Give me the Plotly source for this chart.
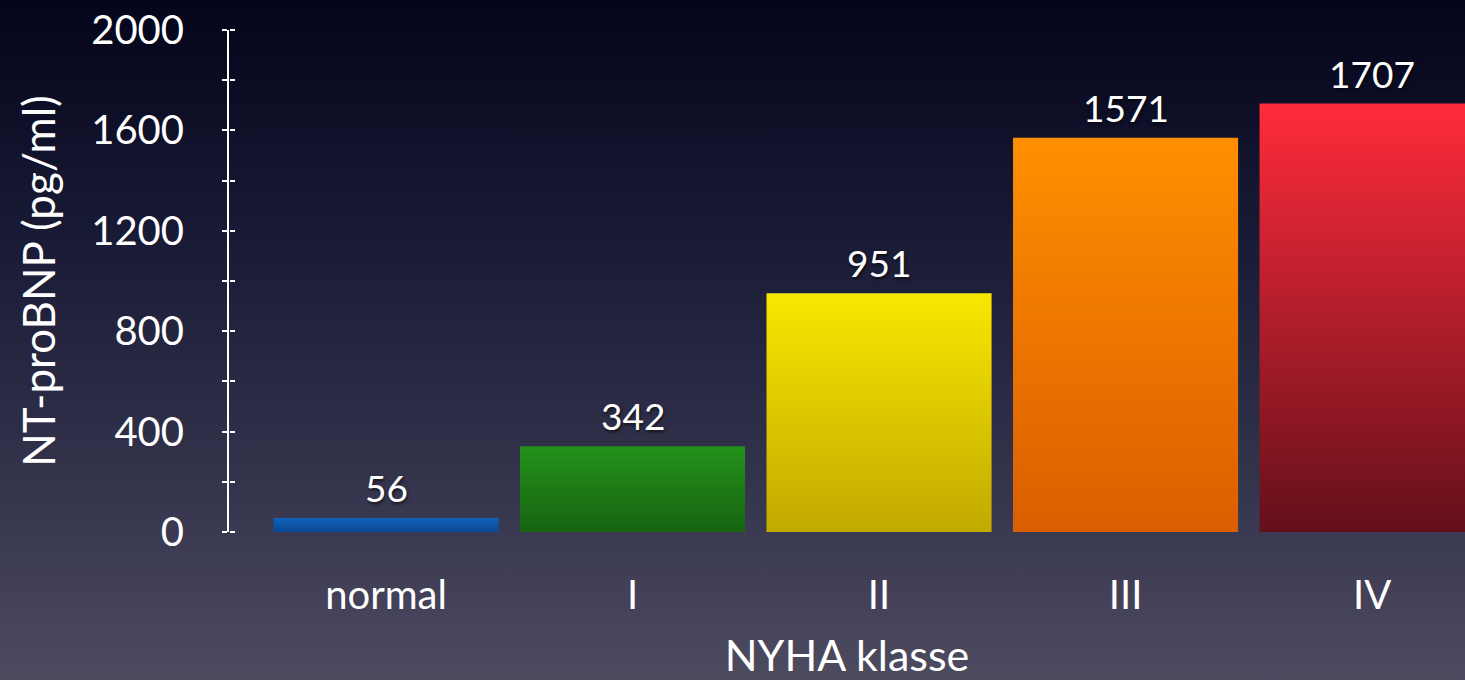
import base64
import plotly.graph_objects as go

# ---- data ----
categories = ["normal", "I", "II", "III", "IV"]
values = [56, 342, 951, 1571, 1707]
top_colors = ["#1062bb", "#24911a", "#f8e700", "#ff8f00", "#ff2b3b"]
bottom_colors = ["#0a4896", "#176412", "#c1a900", "#da5e00", "#63101a"]
y_tick_values = [0, 200, 400, 600, 800, 1000, 1200, 1400, 1600, 1800, 2000]
y_tick_labels = ["0", "", "400", "", "800", "", "1200", "", "1600", "", "2000"]
x_title = "NYHA klasse"
y_title = "NT-proBNP (pg/ml)"

FONT = "Lato, Open Sans, sans-serif"
half_width = 0.4565

# background gradient as an svg image
svg = (
    '<svg xmlns="http://www.w3.org/2000/svg" width="100" height="100" preserveAspectRatio="none">'
    '<defs><linearGradient id="g" x1="0" y1="0" x2="0" y2="1">'
    '<stop offset="0" stop-color="#04051a"/>'
    '<stop offset="0.35" stop-color="#191a35"/>'
    '<stop offset="0.7" stop-color="#33334c"/>'
    '<stop offset="1" stop-color="#4d4b60"/>'
    '</linearGradient></defs>'
    '<rect width="100" height="100" fill="url(#g)"/></svg>'
)
bg_src = "data:image/svg+xml;base64," + base64.b64encode(svg.encode()).decode()

fig = go.Figure()

for i, (cat, v) in enumerate(zip(categories, values)):
    fig.add_trace(go.Scatter(
        x=[i - half_width, i + half_width, i + half_width, i - half_width, i - half_width],
        y=[0, 0, v, v, 0],
        mode="lines",
        line=dict(width=0, color=top_colors[i]),
        fill="toself",
        fillgradient=dict(type="vertical",
                          colorscale=[[0, bottom_colors[i]], [1, top_colors[i]]]),
        name=cat,
        hoverinfo="skip",
        showlegend=False,
    ))
    fig.add_annotation(
        x=i, y=v, text=str(v), showarrow=False, yanchor="bottom", yshift=6,
        font=dict(family=FONT, size=37, color="white",
                  shadow="1px 2px 3px rgba(0,0,0,0.6)"),
    )

# invisible trace on the overlay axis (for the right-pointing ticks)
fig.add_trace(go.Scatter(x=[0], y=[0], yaxis="y2", mode="markers",
                         marker=dict(opacity=0), hoverinfo="skip", showlegend=False))

W, H = 1465, 680
L, R, T, B = 229, 0, 30, 148
pw, ph = W - L - R, H - T - B

fig.add_layout_image(
    source=bg_src, xref="paper", yref="paper",
    x=-L / pw, y=1 + T / ph, sizex=W / pw, sizey=H / ph,
    xanchor="left", yanchor="top", sizing="stretch", layer="below",
)

fig.update_layout(
    width=W, height=H,
    margin=dict(l=L, r=R, t=T, b=B, pad=0),
    paper_bgcolor="#2a2a42",
    plot_bgcolor="rgba(0,0,0,0)",
    font=dict(family=FONT, color="white"),
    xaxis=dict(
        range=[-0.637, 4.377], tickvals=list(range(len(categories))), ticktext=categories,
        showgrid=False, zeroline=False, showline=False, ticks="",
        tickfont=dict(family=FONT, size=40, color="white"),
        ticklabelstandoff=36,
        title=dict(text=x_title, font=dict(family=FONT, size=43, color="white"), standoff=24),
        fixedrange=True,
    ),
    yaxis=dict(
        range=[0, 2000], tickvals=y_tick_values, ticktext=y_tick_labels,
        showgrid=False, zeroline=False, showline=True, linecolor="white", linewidth=2,
        ticks="outside", ticklen=5, tickwidth=2, tickcolor="white",
        tickfont=dict(family=FONT, size=40, color="white"),
        ticklabelstandoff=30,
        title=dict(text=y_title, font=dict(family=FONT, size=44, color="white"), standoff=22),
        fixedrange=True,
    ),
    yaxis2=dict(
        overlaying="y", anchor="free", position=0, side="right",
        range=[0, 2000], tickvals=y_tick_values,
        showticklabels=False, showgrid=False, zeroline=False, showline=False,
        ticks="outside", ticklen=5, tickwidth=2, tickcolor="white", fixedrange=True,
    ),
)

fig.write_html("out.html")
